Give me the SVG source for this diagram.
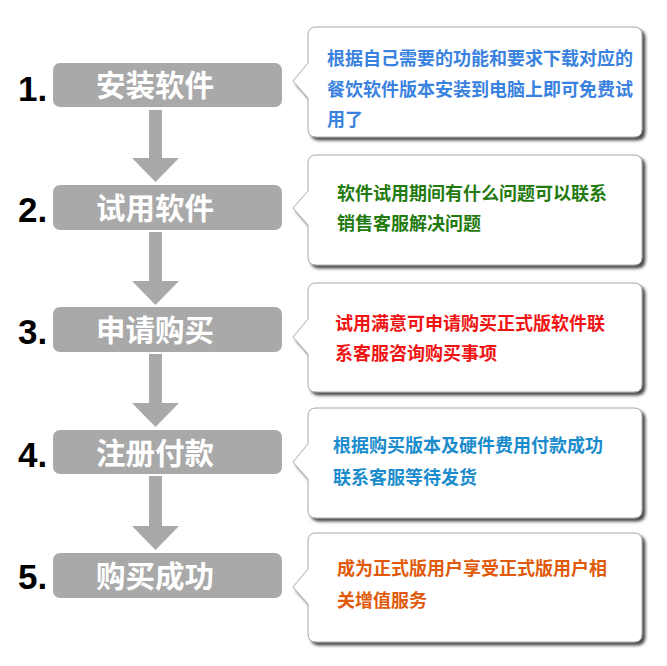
<svg xmlns="http://www.w3.org/2000/svg" width="667" height="666" viewBox="0 0 667 666">
<defs>
<style>
.num{font-family:"Liberation Sans",Arial,sans-serif;font-weight:bold;font-size:35px;fill:#000}
.step{fill:#a9a9a9}
.stxt{font-family:"Noto Sans CJK SC","Noto Sans",sans-serif;font-weight:bold;font-size:29.5px;fill:#fff;text-anchor:middle}
.call{fill:#fff;stroke:#a8a8a8;stroke-width:1;filter:url(#sh)}
.ctxt{font-family:"Noto Sans CJK SC","Noto Sans",sans-serif;font-weight:bold;font-size:18px}
.arr{fill:#a9a9a9}
</style>
<filter id="sh" x="-5%" y="-10%" width="115%" height="130%">
<feDropShadow dx="3" dy="3" stdDeviation="1.5" flood-color="#2a2a2a" flood-opacity="0.85"/>
</filter>
</defs>
<rect width="667" height="666" fill="#fff"/>

<g id="connectors">
<rect class="arr" x="149" y="110" width="13" height="49"/>
<polygon class="arr" points="132,158 179,158 155.5,182"/>
<rect class="arr" x="149" y="232" width="13" height="50"/>
<polygon class="arr" points="132,281 179,281 155.5,305"/>
<rect class="arr" x="149" y="354" width="13" height="50"/>
<polygon class="arr" points="132,403 179,403 155.5,427"/>
<rect class="arr" x="149" y="476" width="13" height="50"/>
<polygon class="arr" points="132,526 179,526 155.5,550"/>
</g>

<g id="step1">
<text class="num" x="18" y="101">1.</text>
<rect class="step" x="53" y="63" width="229" height="44" rx="7"/>
<text class="stxt" x="155" y="95.5">安装软件</text>
</g>
<g id="step2">
<text class="num" x="18" y="222">2.</text>
<rect class="step" x="53" y="185" width="229" height="45" rx="7"/>
<text class="stxt" x="155" y="218.5">试用软件</text>
</g>
<g id="step3">
<text class="num" x="18" y="344">3.</text>
<rect class="step" x="53" y="307" width="229" height="45" rx="7"/>
<text class="stxt" x="155" y="340.5">申请购买</text>
</g>
<g id="step4">
<text class="num" x="18" y="467">4.</text>
<rect class="step" x="53" y="430" width="229" height="44" rx="7"/>
<text class="stxt" x="155" y="463.5">注册付款</text>
</g>
<g id="step5">
<text class="num" x="18" y="589">5.</text>
<rect class="step" x="53" y="553" width="229" height="45" rx="7"/>
<text class="stxt" x="155" y="586.5">购买成功</text>
</g>

<g id="note1">
<path class="call" d="M316,27 H634 Q642,27 642,35 V129 Q642,137 634,137 H316 Q308,137 308,129 V98 L293,81 L308,63 V35 Q308,27 316,27 Z"/>
<text class="ctxt" fill="#3a82e0" x="327" y="65">根据自己需要的功能和要求下载对应的</text>
<text class="ctxt" fill="#3a82e0" x="327" y="95.5">餐饮软件版本安装到电脑上即可免费试</text>
<text class="ctxt" fill="#3a82e0" x="327" y="126">用了</text>
</g>
<g id="note2">
<path class="call" d="M316,155 H634 Q642,155 642,163 V257 Q642,265 634,265 H316 Q308,265 308,257 V225 L293,208 L308,191 V163 Q308,155 316,155 Z"/>
<text class="ctxt" fill="#237a0e" x="337" y="200">软件试用期间有什么问题可以联系</text>
<text class="ctxt" fill="#237a0e" x="337" y="230">销售客服解决问题</text>
</g>
<g id="note3">
<path class="call" d="M316,283 H634 Q642,283 642,291 V384 Q642,392 634,392 H316 Q308,392 308,384 V354 L293,337 L308,319 V291 Q308,283 316,283 Z"/>
<text class="ctxt" fill="#f01414" x="335" y="330">试用满意可申请购买正式版软件联</text>
<text class="ctxt" fill="#f01414" x="335" y="360">系客服咨询购买事项</text>
</g>
<g id="note4">
<path class="call" d="M316,408 H634 Q642,408 642,416 V510 Q642,518 634,518 H316 Q308,518 308,510 V479 L293,462 L308,444 V416 Q308,408 316,408 Z"/>
<text class="ctxt" fill="#1a8ccc" x="333" y="452">根据购买版本及硬件费用付款成功</text>
<text class="ctxt" fill="#1a8ccc" x="333" y="484">联系客服等待发货</text>
</g>
<g id="note5">
<path class="call" d="M316,533 H634 Q642,533 642,541 V634 Q642,642 634,642 H316 Q308,642 308,634 V604 L293,587 L308,569 V541 Q308,533 316,533 Z"/>
<text class="ctxt" fill="#e05a0a" x="337" y="575">成为正式版用户享受正式版用户相</text>
<text class="ctxt" fill="#e05a0a" x="337" y="607">关增值服务</text>
</g>
</svg>
